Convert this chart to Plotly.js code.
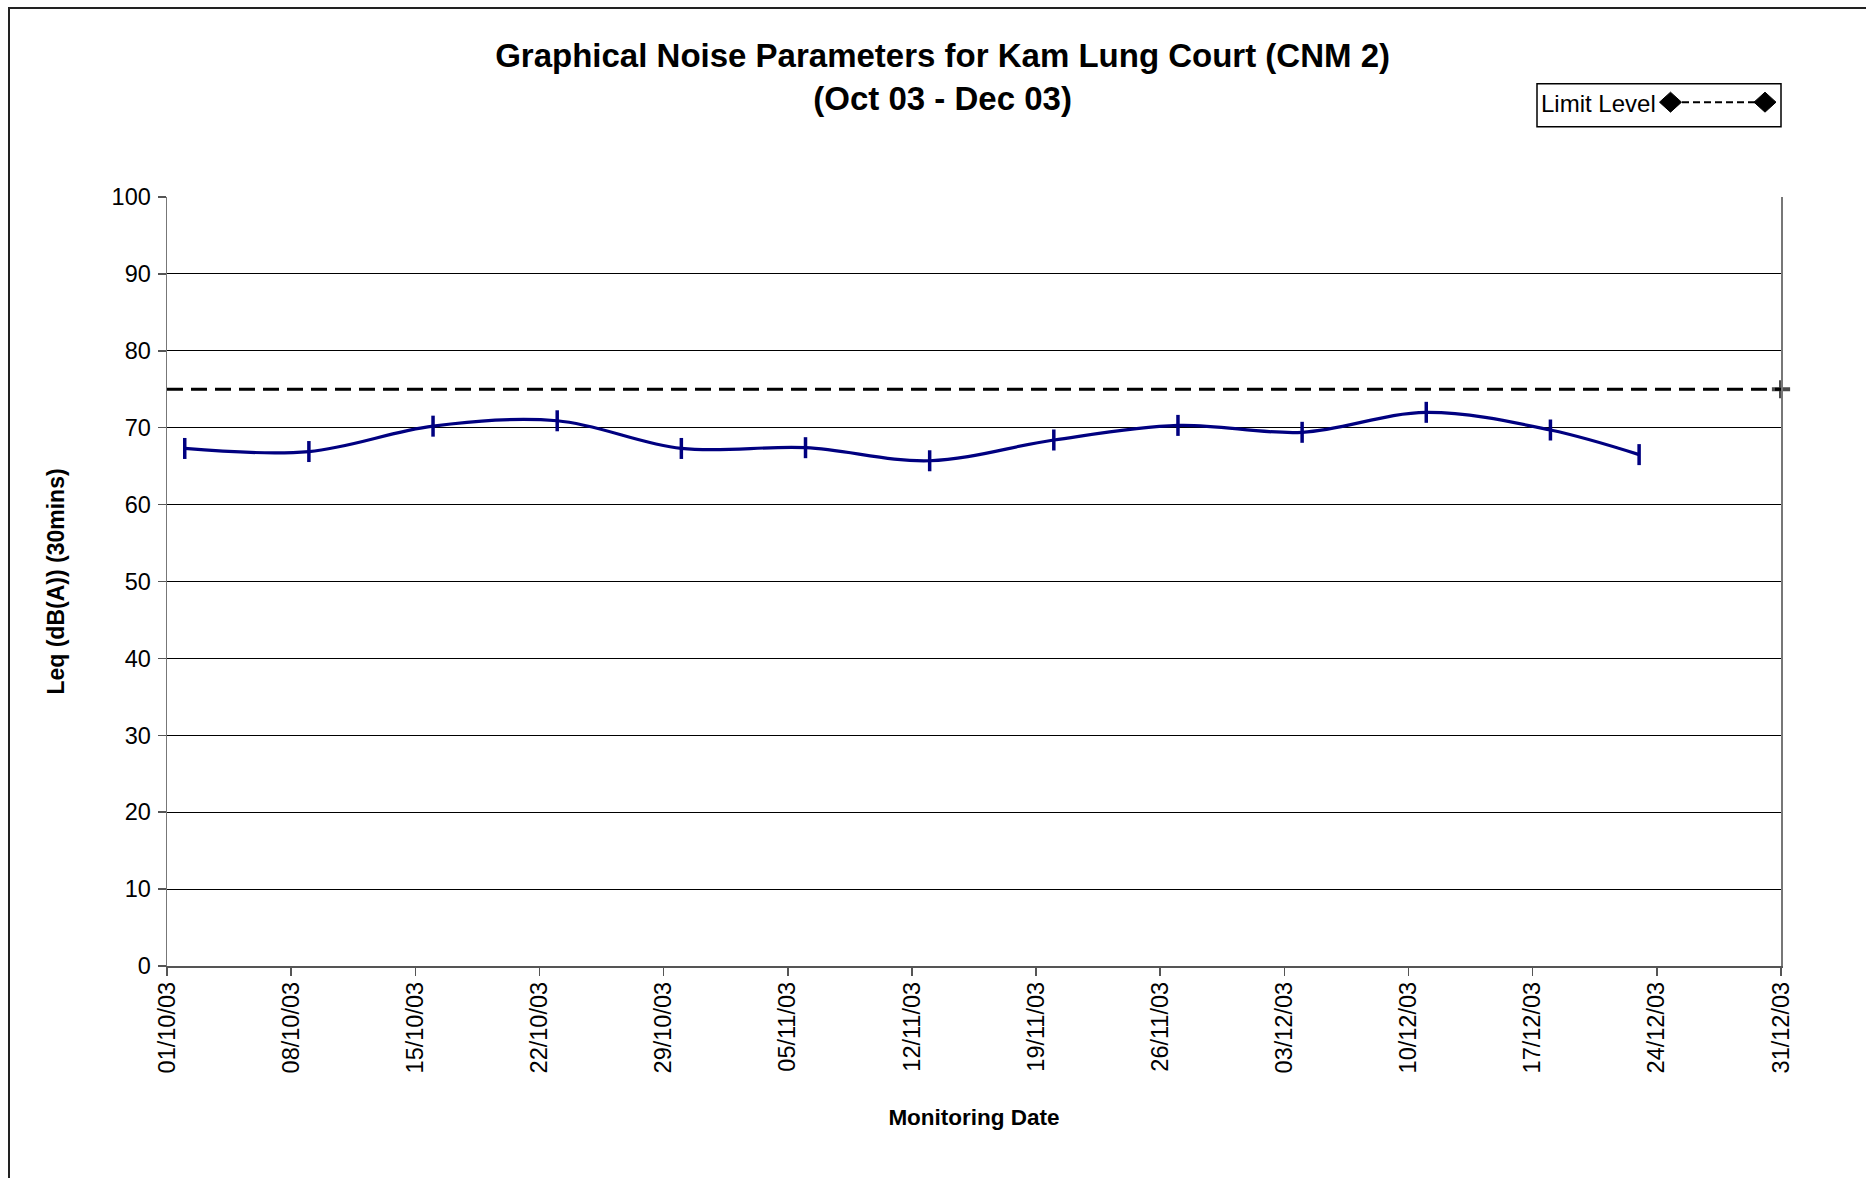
<!DOCTYPE html>
<html>
<head>
<meta charset="utf-8">
<script src="https://cdn.plot.ly/plotly-3.0.1.min.js"></script>
<style>
  html, body { margin: 0; padding: 0; background: #fff; overflow: hidden; }
  #wrap { position: relative; width: 1866px; height: 1178px; }
  #chart { width: 1866px; height: 1178px; }
  #frame { position: absolute; left: 8px; top: 7px; width: 1900px; height: 1300px;
           border-left: 2px solid #222; border-top: 2px solid #222; pointer-events: none; }
</style>
</head>
<body>
<div id="wrap">
  <div id="chart"></div>
  <div id="frame"></div>
</div>
<script>
// ---- data ----
const monitoringDates = ["2003-10-02","2003-10-09","2003-10-16","2003-10-23","2003-10-30",
                         "2003-11-06","2003-11-13","2003-11-20","2003-11-27","2003-12-04",
                         "2003-12-11","2003-12-18","2003-12-23"];
const leqValues = [67.3, 66.9, 70.2, 70.9, 67.3, 67.4, 65.7, 68.4, 70.3, 69.4, 72.0, 69.7, 66.5];
const limitDates = ["2003-10-01", "2003-12-31"];
const limitValues = [75, 75];
const limitName = "Limit Level";
const titleLines = ["Graphical Noise Parameters for Kam Lung Court (CNM 2)", "(Oct 03 - Dec 03)"];
const xTitle = "Monitoring Date";
const yTitle = "Leq (dB(A)) (30mins)";

const FONT = "Liberation Sans, Arial, sans-serif";

const traces = [
  {
    x: monitoringDates, y: leqValues, type: "scatter", mode: "lines+markers",
    line: { color: "#000080", width: 3.2, shape: "spline", smoothing: 1 },
    marker: { symbol: "line-ns", size: 15, color: "#000080", line: { color: "#000080", width: 3.5 } },
    showlegend: false, cliponaxis: false
  },
  {
    x: limitDates, y: limitValues, type: "scatter", mode: "lines+markers", name: limitName,
    line: { color: "#000000", width: 3, dash: "16px,8px" },
    marker: { symbol: "cross-thin", size: [0, 13], color: "#000", line: { color: "#000", width: 4 } },
    showlegend: false, cliponaxis: false
  }
];

// plot-area pixel geometry helpers (for the hand-drawn legend box)
const L = 167, R = 1781, T = 197.3, B = 966;
const px = X => (X - L) / (R - L);
const py = Y => (B - Y) / (B - T);

const layout = {
  width: 1866, height: 1178,
  margin: { l: L, r: 1866 - R, t: T, b: 1178 - B, pad: 0 },
  paper_bgcolor: "#fff", plot_bgcolor: "#fff",
  font: { family: FONT, color: "#000", size: 23 },
  title: {
    text: "<b>" + titleLines[0] + "</b><br><b>" + titleLines[1] + "</b>",
    font: { family: FONT, size: 33, color: "#000" },
    x: 942.6 / 1866, xanchor: "center", xref: "container",
    y: 1 - 67 / 1178, yanchor: "middle", yref: "container"
  },
  xaxis: {
    type: "date",
    range: ["2003-10-01", "2003-12-31"],
    tickmode: "linear", tick0: "2003-10-01", dtick: 7 * 24 * 3600 * 1000,
    tickformat: "%d/%m/%y", tickangle: -90,
    ticks: "outside", ticklen: 8, tickwidth: 1.5, tickcolor: "#555",
    ticklabelstandoff: -3,
    showline: true, linecolor: "#555", linewidth: 1.5, mirror: false,
    showgrid: false, zeroline: false,
    tickfont: { family: FONT, size: 23.5, color: "#000" },
    title: { text: "<b>" + xTitle + "</b>", font: { family: FONT, size: 22.5, color: "#000" }, standoff: 37 }
  },
  yaxis: {
    range: [0, 100], tickmode: "linear", tick0: 0, dtick: 10,
    ticks: "outside", ticklen: 8, tickwidth: 1.5, tickcolor: "#555",
    ticklabelstandoff: 2,
    showline: true, linecolor: "#777", linewidth: 1.5, mirror: true,
    showgrid: true, gridcolor: "#000", gridwidth: 1, zeroline: false,
    tickfont: { family: FONT, size: 23.5, color: "#000" },
    title: { text: "<b>" + yTitle + "</b>", font: { family: FONT, size: 23, color: "#000" }, standoff: 40 }
  },
  showlegend: false,
  shapes: [
    { type: "rect", xref: "paper", yref: "paper", x0: px(1537), x1: px(1781), y0: py(127), y1: py(84),
      line: { color: "#000", width: 1.5 }, fillcolor: "#fff", layer: "above" },
    { type: "line", xref: "paper", yref: "paper", x0: px(1671), x1: px(1765), y0: py(102.5), y1: py(102.5),
      line: { color: "#000", width: 2, dash: "7px,4px" }, layer: "above" },
    { type: "path", xref: "paper", yref: "paper", xsizemode: "pixel", ysizemode: "pixel",
      xanchor: px(1670.5), yanchor: py(102.5), path: "M -11 0 L 0 10 L 11 0 L 0 -10 Z",
      fillcolor: "#000", line: { color: "#000", width: 1 }, layer: "above" },
    { type: "path", xref: "paper", yref: "paper", xsizemode: "pixel", ysizemode: "pixel",
      xanchor: px(1765), yanchor: py(102.5), path: "M -11 0 L 0 10 L 11 0 L 0 -10 Z",
      fillcolor: "#000", line: { color: "#000", width: 1 }, layer: "above" }
  ],
  annotations: [
    { xref: "paper", yref: "paper", x: px(1539), y: py(104), xanchor: "left", yanchor: "middle",
      text: limitName, showarrow: false, font: { family: FONT, size: 24, color: "#000" } }
  ]
};

Plotly.newPlot("chart", traces, layout, { staticPlot: true, displayModeBar: false });
</script>
</body>
</html>
